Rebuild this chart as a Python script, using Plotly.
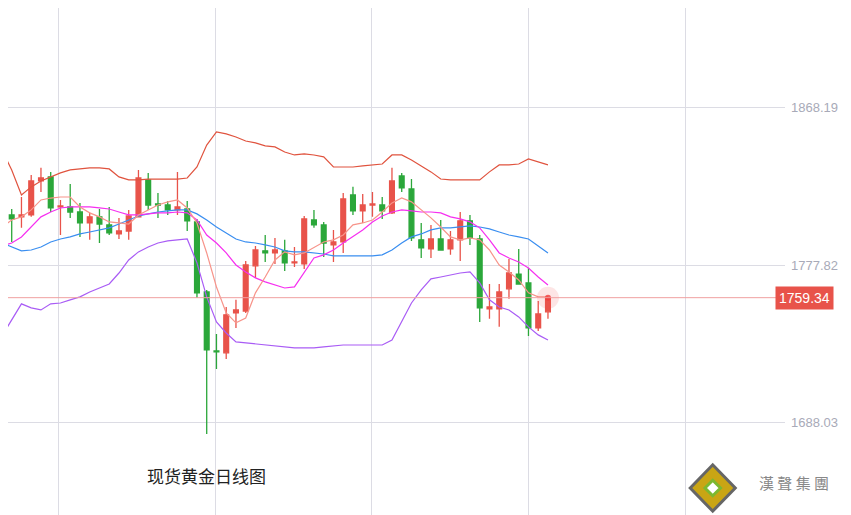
import plotly.graph_objects as go

# daily candles (open, high, low, close)
opens = [1802.2, 1806.8, 1805.7, 1806.8, 1826.3, 1828.6, 1811.4, 1811.4, 1808.5, 1802.2,
         1805.7, 1801.1, 1795.9, 1797.6, 1805.7, 1826.9, 1813.1, 1812.5, 1809.7, 1810.2,
         1802.8, 1762.6, 1728.8, 1727.7, 1750.6, 1751.7, 1777.6, 1786.2, 1785.0, 1786.2,
         1779.3, 1778.7, 1803.9, 1801.1, 1789.6, 1791.3, 1818.3, 1809.1, 1812.5, 1812.5,
         1808.0, 1829.2, 1821.7, 1792.5, 1787.3, 1793.0, 1787.3, 1792.5, 1803.4, 1793.0,
         1752.9, 1752.9, 1764.4, 1772.9, 1767.8, 1742.0, 1751.2]
highs = [1815.4, 1810.2, 1817.1, 1829.7, 1833.8, 1831.5, 1815.4, 1824.6, 1813.7, 1808.0,
         1810.2, 1811.4, 1805.1, 1809.7, 1832.6, 1830.9, 1819.4, 1814.8, 1831.5, 1814.8,
         1804.5, 1763.8, 1738.5, 1754.0, 1758.1, 1780.4, 1789.0, 1795.3, 1793.6, 1792.5,
         1788.4, 1806.2, 1809.7, 1802.8, 1798.2, 1819.4, 1822.9, 1818.8, 1820.0, 1817.1,
         1833.8, 1830.9, 1827.4, 1802.2, 1801.1, 1803.9, 1797.6, 1808.5, 1806.8, 1795.3,
         1767.2, 1767.2, 1781.6, 1787.3, 1776.4, 1757.5, 1759.8]
lows = [1799.4, 1791.3, 1799.4, 1805.7, 1820.0, 1808.5, 1795.3, 1805.1, 1794.2, 1792.5,
        1790.7, 1795.3, 1793.0, 1792.5, 1805.7, 1809.7, 1805.1, 1806.8, 1806.8, 1797.6,
        1759.2, 1681.2, 1718.5, 1724.2, 1742.0, 1750.6, 1770.7, 1779.8, 1778.7, 1774.7,
        1777.0, 1775.8, 1799.4, 1782.7, 1779.8, 1785.0, 1806.8, 1802.2, 1805.7, 1804.5,
        1807.4, 1820.0, 1791.9, 1782.1, 1782.1, 1786.7, 1783.9, 1780.4, 1789.6, 1745.4,
        1747.2, 1742.6, 1758.7, 1767.2, 1737.4, 1740.3, 1747.2]
closes = [1812.0, 1804.5, 1806.8, 1826.3, 1828.0, 1810.8, 1812.0, 1808.5, 1802.2, 1805.7,
          1801.6, 1796.5, 1797.6, 1806.2, 1828.0, 1812.5, 1812.5, 1809.7, 1811.4, 1803.4,
          1762.1, 1729.4, 1728.2, 1749.5, 1752.3, 1778.1, 1786.7, 1785.0, 1786.7, 1779.3,
          1779.8, 1804.5, 1801.1, 1790.7, 1791.3, 1816.0, 1809.1, 1812.5, 1813.1, 1809.1,
          1826.3, 1822.3, 1793.6, 1787.9, 1793.0, 1786.7, 1792.5, 1803.4, 1793.6, 1753.5,
          1754.0, 1762.6, 1773.5, 1767.2, 1742.0, 1750.0, 1759.3]

# Bollinger bands and moving averages
boll_upper = [1844.1, 1832.6, 1818.3, 1822.9, 1826.3, 1828.6, 1830.9, 1832.6, 1833.2, 1833.8,
              1833.8, 1833.2, 1828.6, 1826.9, 1826.9, 1827.4, 1827.4, 1827.4, 1827.4, 1828.0,
              1834.3, 1846.9, 1854.4, 1853.3, 1851.5, 1849.2, 1848.1, 1846.4, 1845.8, 1842.9,
              1841.2, 1841.8, 1841.2, 1840.1, 1834.3, 1834.3, 1834.3, 1834.9, 1835.5, 1836.0,
              1841.2, 1841.2, 1838.3, 1834.9, 1831.5, 1827.4, 1826.9, 1826.9, 1826.9, 1826.9,
              1831.5, 1835.5, 1835.5, 1836.0, 1838.9, 1837.2, 1835.5]
boll_mid = [1790.7, 1788.4, 1786.2, 1786.7, 1788.4, 1791.3, 1793.0, 1794.2, 1795.9, 1797.0,
            1798.2, 1799.4, 1801.6, 1803.9, 1806.2, 1807.4, 1808.5, 1809.1, 1809.7, 1809.7,
            1807.4, 1803.9, 1799.9, 1796.5, 1793.0, 1791.3, 1790.7, 1789.6, 1788.4, 1786.2,
            1785.6, 1785.6, 1785.0, 1784.4, 1783.3, 1783.3, 1783.3, 1783.3, 1783.3, 1783.9,
            1786.7, 1790.7, 1794.2, 1795.9, 1798.2, 1799.4, 1799.4, 1799.9, 1800.5, 1799.9,
            1798.8, 1797.0, 1795.3, 1794.2, 1793.0, 1789.0, 1785.0]
boll_lower = [1737.4, 1746.6, 1755.8, 1753.5, 1752.3, 1755.8, 1756.3, 1758.1, 1759.8, 1762.6,
              1764.9, 1767.2, 1773.5, 1781.0, 1785.6, 1788.4, 1790.7, 1791.9, 1792.5, 1793.0,
              1779.3, 1759.8, 1745.4, 1739.1, 1734.0, 1733.4, 1732.8, 1732.2, 1731.7, 1731.1,
              1730.5, 1730.5, 1730.5, 1731.1, 1731.7, 1732.2, 1732.2, 1732.2, 1732.2, 1732.2,
              1735.1, 1745.4, 1756.3, 1763.8, 1770.1, 1771.2, 1772.4, 1773.5, 1774.1, 1767.8,
              1758.1, 1754.0, 1752.3, 1748.3, 1742.6, 1738.0, 1735.1]
ma10 = [1789.0, 1790.7, 1794.2, 1799.9, 1805.7, 1808.5, 1810.8, 1811.4, 1811.4, 1811.4,
        1810.8, 1810.2, 1808.5, 1806.8, 1806.8, 1807.4, 1808.0, 1808.0, 1808.5, 1808.0,
        1803.9, 1795.3, 1790.7, 1785.0, 1778.1, 1774.1, 1770.7, 1768.4, 1766.6, 1764.9,
        1765.5, 1773.5, 1782.1, 1783.9, 1786.7, 1790.7, 1794.2, 1798.2, 1802.8, 1806.2,
        1808.5, 1809.7, 1809.1, 1808.5, 1808.5, 1808.0, 1805.7, 1804.5, 1802.8, 1799.4,
        1792.5, 1785.0, 1782.1, 1779.8, 1776.4, 1771.2, 1766.6]
ma5 = [1799.9, 1803.9, 1805.7, 1809.7, 1815.4, 1816.5, 1817.1, 1817.1, 1811.4, 1808.0,
       1805.7, 1802.8, 1802.2, 1801.6, 1806.8, 1809.7, 1812.5, 1814.3, 1815.4, 1810.8,
       1802.2, 1785.0, 1765.5, 1750.6, 1744.9, 1747.7, 1762.1, 1771.2, 1781.0, 1785.6,
       1783.9, 1785.0, 1788.4, 1791.3, 1792.5, 1795.3, 1801.1, 1802.2, 1803.9, 1808.5,
       1813.7, 1816.5, 1814.3, 1809.7, 1805.1, 1799.9, 1794.2, 1792.5, 1793.6, 1792.5,
       1786.7, 1778.1, 1774.1, 1769.5, 1762.1, 1759.8, 1759.8]

ytick_vals = [1688.03, 1777.82, 1868.19]
last_price = 1759.34
title = "现货黄金日线图"
brand = "漢 聲 集 團"

idx = list(range(len(closes)))
RED = "#e8534a"
GREEN = "#2ba73a"

fig = go.Figure()
fig.add_trace(go.Candlestick(
    x=idx, open=opens, high=highs, low=lows, close=closes,
    increasing=dict(line=dict(color=RED, width=1.3), fillcolor=RED),
    decreasing=dict(line=dict(color=GREEN, width=1.3), fillcolor=GREEN),
    whiskerwidth=0, showlegend=False))

for ys, col in [(boll_upper, "#e0533e"), (boll_mid, "#3a8ef0"), (boll_lower, "#a95cf5"),
                (ma10, "#f62ff0"), (ma5, "#f7948a")]:
    fig.add_trace(go.Scatter(x=idx, y=ys, mode="lines", line=dict(color=col, width=1.2),
                             showlegend=False, hoverinfo="skip"))

# last price glow
fig.add_trace(go.Scatter(x=[idx[-1]], y=[last_price], mode="markers",
                         marker=dict(size=22, color="rgba(240,80,80,0.15)"),
                         showlegend=False, hoverinfo="skip"))
fig.add_trace(go.Scatter(x=[idx[-1]], y=[last_price], mode="markers",
                         marker=dict(size=6, color="rgba(240,60,60,0.8)"),
                         showlegend=False, hoverinfo="skip"))

fig.add_hline(y=last_price, line=dict(color="#f0a0a0", width=1))

for v in ytick_vals:
    fig.add_annotation(x=1, xref="paper", y=v, yref="y", xanchor="left", xshift=4,
                       text=f"{v:.2f}", showarrow=False,
                       font=dict(color="#a8aab8", size=13, family="Liberation Sans"))
fig.add_annotation(x=1, xref="paper", y=last_price, yref="y", xanchor="left", xshift=-10,
                   text=f"{last_price:.2f}", showarrow=False, bgcolor="#e8534a",
                   font=dict(color="white", size=14, family="Liberation Sans"), borderpad=3)

fig.add_annotation(x=0.176, xref="paper", y=0.064, yref="paper", text=title, showarrow=False,
                   xanchor="left", font=dict(size=17, color="#222", family="Noto Sans CJK SC"))
fig.add_annotation(x=1.012, xref="paper", y=0.054, yref="paper", text=brand, xanchor="center",
                   showarrow=False, font=dict(size=15, color="#888", family="Noto Sans CJK TC"))
# logo diamond (paper coords)
fig.add_shape(type="path", xref="paper", yref="paper",
              path="M 0.878 0.068 L 0.907 0.113 L 0.936 0.068 L 0.907 0.023 Z",
              fillcolor="#c9a514", line=dict(color="#666", width=3))
fig.add_shape(type="path", xref="paper", yref="paper",
              path="M 0.897 0.068 L 0.907 0.083 L 0.917 0.068 L 0.907 0.053 Z",
              fillcolor="white", line=dict(color="#7cb82f", width=3))

fig.update_layout(
    width=851, height=515, margin=dict(l=0, r=74, t=0, b=0, pad=0, autoexpand=False),
    plot_bgcolor="white", paper_bgcolor="white",
    xaxis=dict(range=[0.62, 80.31], showticklabels=False, rangeslider=dict(visible=False),
               showgrid=True, gridcolor="#dcdce4", tick0=5.75, dtick=16.1, zeroline=False),
    yaxis=dict(range=[1630.1, 1925.5], showticklabels=False, tickvals=ytick_vals,
               showgrid=True, gridcolor="#dcdce4", zeroline=False),
)
fig.write_html("out.html")
